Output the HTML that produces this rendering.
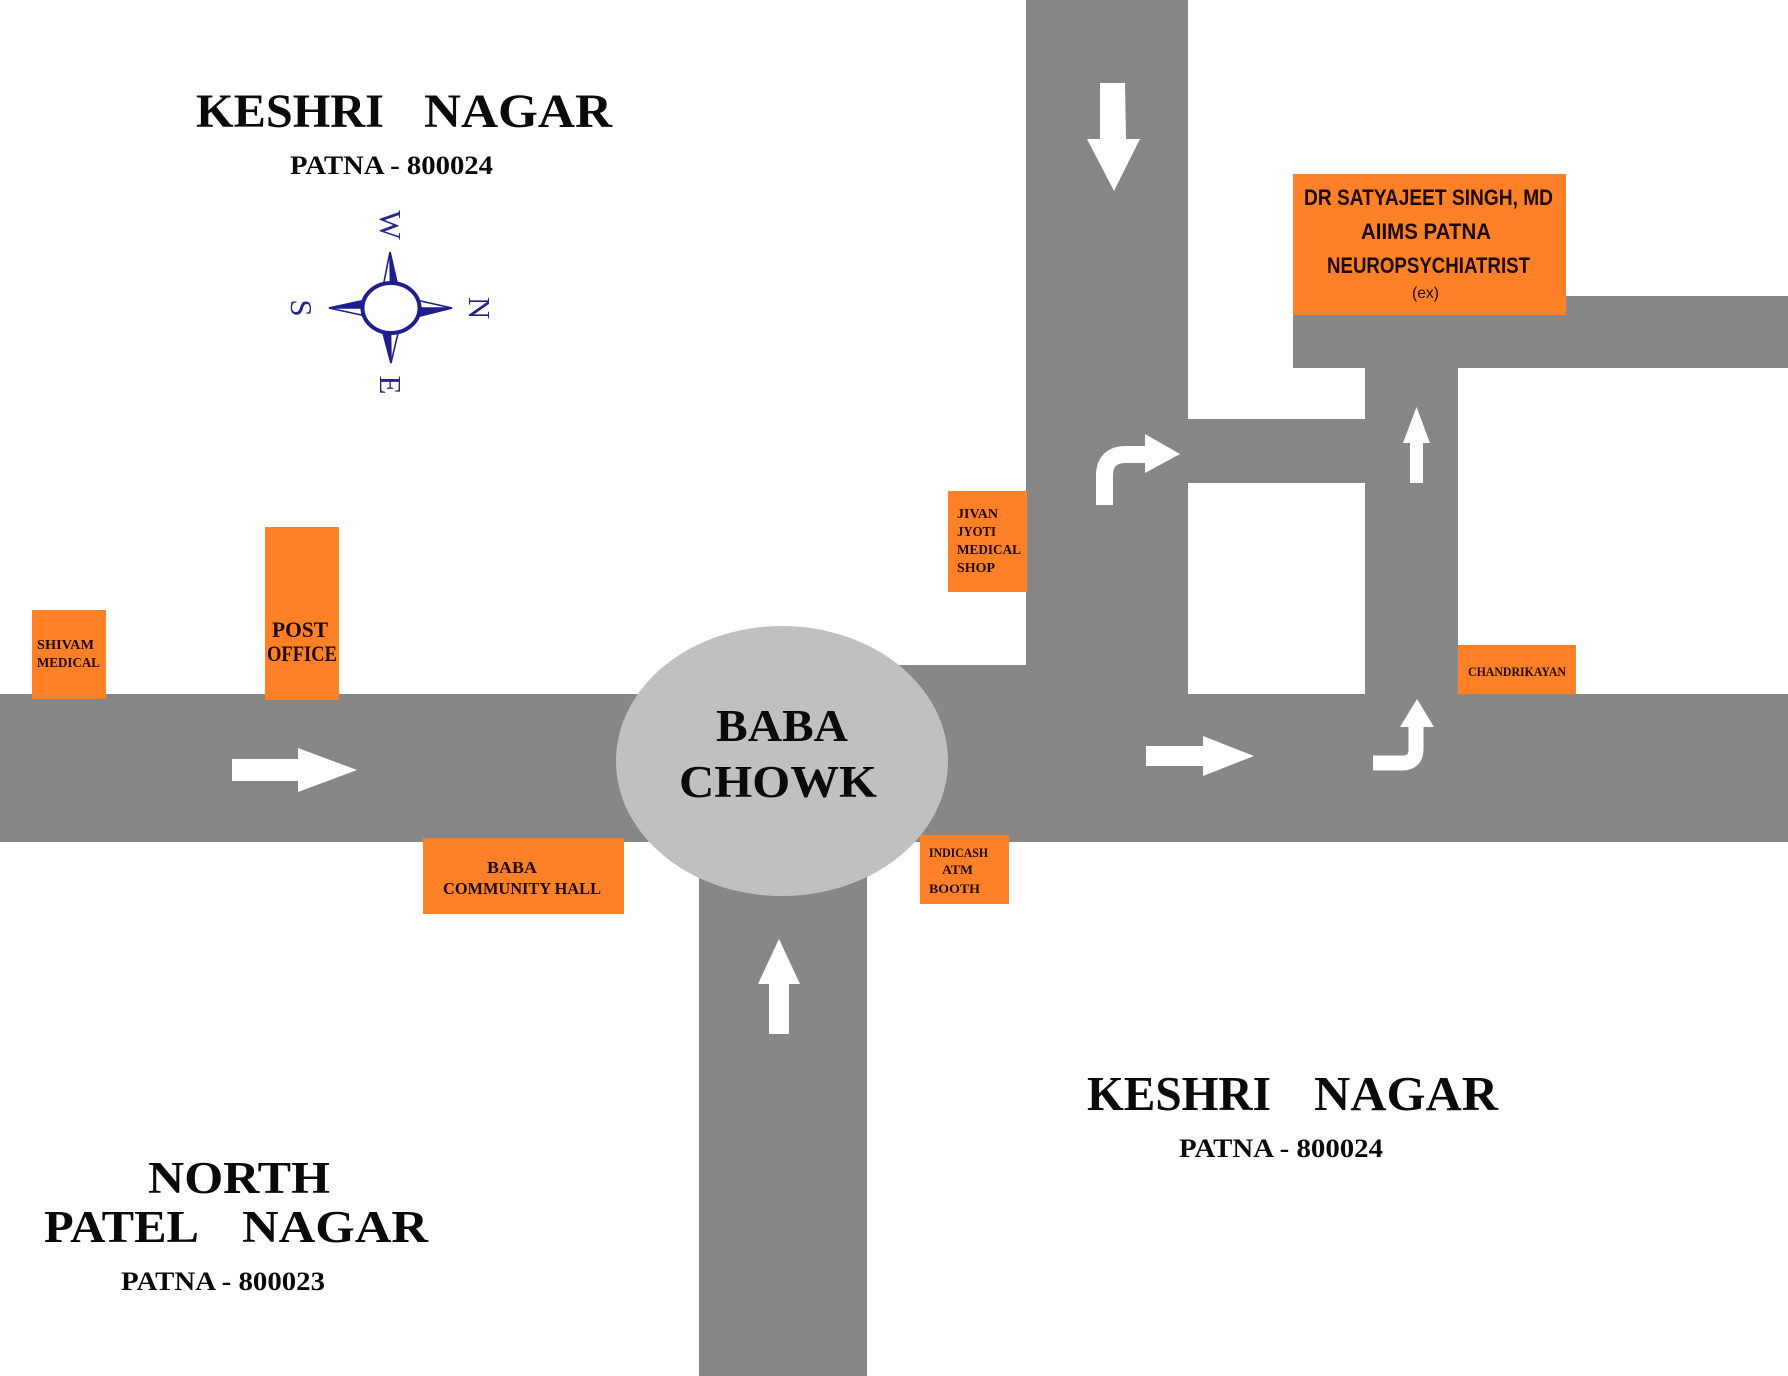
<!DOCTYPE html>
<html>
<head>
<meta charset="utf-8">
<style>
html,body{margin:0;padding:0;background:#ffffff;}
svg{display:block;}
.serif{font-family:"Liberation Serif","Times New Roman",serif;font-weight:bold;}
.sans{font-family:"Liberation Sans",Arial,sans-serif;font-weight:bold;}
</style>
</head>
<body>
<svg width="1788" height="1376" viewBox="0 0 1788 1376" xmlns="http://www.w3.org/2000/svg">
  <rect x="0" y="0" width="1788" height="1376" fill="#ffffff"/>

  <!-- Roads -->
  <g fill="#878787">
    <rect x="0" y="694" width="1788" height="148"/>
    <rect x="699" y="840" width="168" height="536"/>
    <rect x="1026" y="0" width="162" height="696"/>
    <rect x="870" y="665" width="158" height="31"/>
    <rect x="1186" y="419" width="181" height="64"/>
    <rect x="1365" y="366" width="93" height="330"/>
    <rect x="1293" y="296" width="495" height="72"/>
  </g>

  <!-- Baba Chowk circle -->
  <ellipse cx="782" cy="761" rx="166" ry="135" fill="#c0c0c0"/>
  <text class="serif" x="716" y="741" font-size="45" fill="#0a0a0a" textLength="132" lengthAdjust="spacingAndGlyphs">BABA</text>
  <text class="serif" x="679" y="797" font-size="45" fill="#0a0a0a" textLength="198" lengthAdjust="spacingAndGlyphs">CHOWK</text>

  <!-- Orange boxes -->
  <g fill="#fe8128">
    <rect x="32" y="610" width="74" height="89"/>
    <rect x="265" y="527" width="74" height="173"/>
    <rect x="423" y="838" width="201" height="76"/>
    <rect x="948" y="491" width="79" height="101"/>
    <rect x="920" y="835" width="89" height="69"/>
    <rect x="1458" y="645" width="118" height="49"/>
    <rect x="1293" y="174" width="273" height="141"/>
  </g>

  <!-- Box labels -->
  <g class="serif" fill="#1e0600">
    <text x="37" y="649" font-size="14" textLength="57" lengthAdjust="spacingAndGlyphs">SHIVAM</text>
    <text x="37" y="667" font-size="14" textLength="63" lengthAdjust="spacingAndGlyphs">MEDICAL</text>

    <text x="272" y="637" font-size="22" textLength="56" lengthAdjust="spacingAndGlyphs">POST</text>
    <text x="267" y="661" font-size="22" textLength="70" lengthAdjust="spacingAndGlyphs">OFFICE</text>

    <text x="487" y="873" font-size="17" textLength="50" lengthAdjust="spacingAndGlyphs">BABA</text>
    <text x="443" y="894" font-size="17" textLength="158" lengthAdjust="spacingAndGlyphs">COMMUNITY HALL</text>

    <text x="957" y="518" font-size="13.5" textLength="41" lengthAdjust="spacingAndGlyphs">JIVAN</text>
    <text x="957" y="536" font-size="13.5" textLength="39" lengthAdjust="spacingAndGlyphs">JYOTI</text>
    <text x="957" y="554" font-size="13.5" textLength="64" lengthAdjust="spacingAndGlyphs">MEDICAL</text>
    <text x="957" y="572" font-size="13.5" textLength="38" lengthAdjust="spacingAndGlyphs">SHOP</text>

    <text x="929" y="857" font-size="12.5" textLength="59" lengthAdjust="spacingAndGlyphs">INDICASH</text>
    <text x="942" y="874" font-size="12.5" textLength="31" lengthAdjust="spacingAndGlyphs">ATM</text>
    <text x="929" y="893" font-size="12.5" textLength="51" lengthAdjust="spacingAndGlyphs">BOOTH</text>

    <text x="1468" y="676" font-size="12.5" textLength="98" lengthAdjust="spacingAndGlyphs">CHANDRIKAYAN</text>
  </g>

  <g class="sans" fill="#1a0800">
    <text x="1304" y="205" font-size="22" textLength="249" lengthAdjust="spacingAndGlyphs">DR SATYAJEET SINGH, MD</text>
    <text x="1361" y="239" font-size="22" textLength="130" lengthAdjust="spacingAndGlyphs">AIIMS PATNA</text>
    <text x="1327" y="273" font-size="22" textLength="203" lengthAdjust="spacingAndGlyphs">NEUROPSYCHIATRIST</text>
  </g>
  <text x="1412" y="298" font-family="'Liberation Sans',Arial,sans-serif" font-size="16" fill="#1a0800" textLength="27" lengthAdjust="spacingAndGlyphs">(ex)</text>

  <!-- Arrows -->
  <g fill="#ffffff">
    <rect x="232" y="759" width="67" height="22"/>
    <polygon points="298,748 357,770 298,792"/>
    <rect x="1146" y="746" width="58" height="20"/>
    <polygon points="1203,736 1254,756 1203,776"/>
    <polygon points="1100,83 1125,83 1126,140 1100,140"/>
    <polygon points="1087,139 1140,139 1114,191"/>
    <rect x="1410" y="442" width="13" height="41"/>
    <polygon points="1403,443 1416.5,407 1430,443"/>
    <rect x="769" y="983" width="20" height="51"/>
    <polygon points="758,984 779,939 800,984"/>
    <polygon points="1145,434 1180,454 1145,473"/>
    <polygon points="1400,727 1417,699 1434,727"/>
  </g>
  <g fill="none" stroke="#ffffff" stroke-linecap="butt">
    <path d="M1104.5,505 V476 Q1104.5,454.5 1126,454.5 H1147" stroke-width="17"/>
    <path d="M1373,763 H1402 Q1416,763 1416,749 V725" stroke-width="15"/>
  </g>

  <!-- Area labels -->
  <g class="serif" fill="#0a0a0a">
    <text x="196" y="127" font-size="48" textLength="188" lengthAdjust="spacingAndGlyphs">KESHRI</text>
    <text x="424" y="127" font-size="48" textLength="188" lengthAdjust="spacingAndGlyphs">NAGAR</text>
    <text x="290" y="174" font-size="26" textLength="203" lengthAdjust="spacingAndGlyphs">PATNA - 800024</text>

    <text x="1087" y="1110" font-size="49" textLength="184" lengthAdjust="spacingAndGlyphs">KESHRI</text>
    <text x="1314" y="1110" font-size="49" textLength="184" lengthAdjust="spacingAndGlyphs">NAGAR</text>
    <text x="1179" y="1157" font-size="26" textLength="204" lengthAdjust="spacingAndGlyphs">PATNA - 800024</text>

    <text x="148" y="1193" font-size="45" textLength="182" lengthAdjust="spacingAndGlyphs">NORTH</text>
    <text x="44" y="1242" font-size="45" textLength="155" lengthAdjust="spacingAndGlyphs">PATEL</text>
    <text x="242" y="1242" font-size="45" textLength="186" lengthAdjust="spacingAndGlyphs">NAGAR</text>
    <text x="121" y="1290" font-size="26" textLength="204" lengthAdjust="spacingAndGlyphs">PATNA - 800023</text>
  </g>

  <!-- Compass -->
  <g stroke="#1e1e8e" stroke-width="1.6" stroke-linejoin="miter">
    <polygon points="390,252 383,287 398,287" fill="#ffffff"/>
    <polygon points="390,252 398,287 390.5,287" fill="#1e1e8e"/>
    <polygon points="329,308 366,300 366,316" fill="#ffffff"/>
    <polygon points="329,308 366,300 366,308" fill="#1e1e8e"/>
    <polygon points="452,308 416,300 416,317" fill="#ffffff"/>
    <polygon points="452,308 416,308 416,317" fill="#1e1e8e"/>
    <polygon points="391,363 382,329 399,329" fill="#ffffff"/>
    <polygon points="391,363 382,329 390.5,329" fill="#1e1e8e"/>
  </g>
  <ellipse cx="391" cy="308" rx="28.5" ry="25" fill="#ffffff" stroke="#1e1e8e" stroke-width="4"/>
  <g font-family="'Liberation Serif','Times New Roman',serif" font-size="31" fill="#24248c" text-anchor="middle">
    <text transform="translate(390,225) rotate(90)" y="10">W</text>
    <text transform="translate(390,385) rotate(90)" y="10">E</text>
    <text transform="translate(301,308) rotate(90)" y="10">S</text>
    <text transform="translate(479,308) rotate(90)" y="10">N</text>
  </g>
</svg>
</body>
</html>
